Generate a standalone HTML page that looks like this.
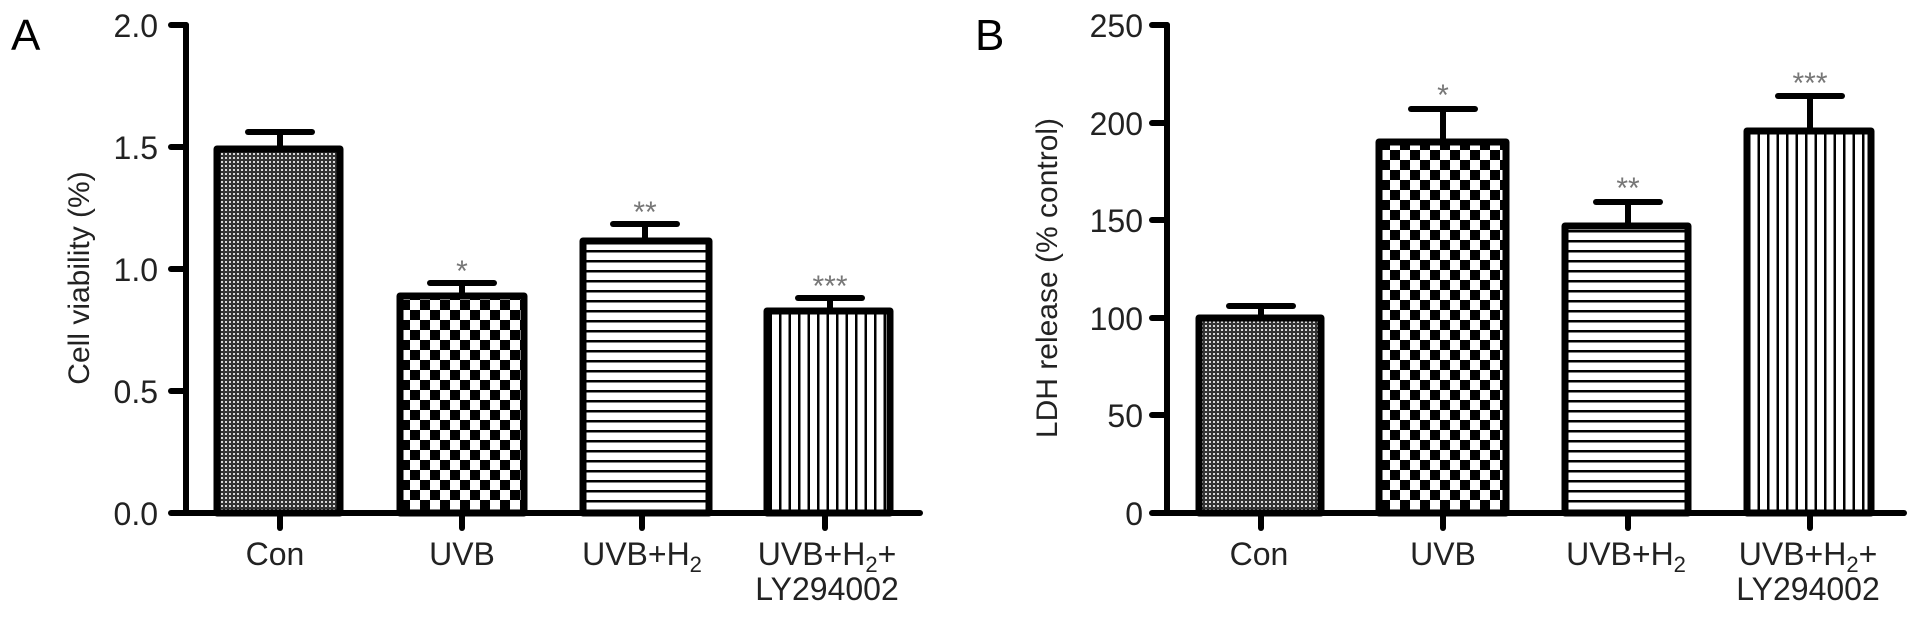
<!DOCTYPE html>
<html><head><meta charset="utf-8"><style>
html,body{margin:0;padding:0;background:#fff;}
svg{display:block;}
text{font-family:"Liberation Sans",Arial,sans-serif;}
</style></head><body>
<svg width="1913" height="620" viewBox="0 0 1913 620" xmlns="http://www.w3.org/2000/svg">
<defs>
<pattern id="dots" width="4" height="4" patternUnits="userSpaceOnUse">
<rect width="4" height="4" fill="#333"/><rect x="1" y="1" width="2" height="2" fill="#d8d8d8"/>
</pattern>
<pattern id="chk" width="20" height="20" patternUnits="userSpaceOnUse">
<rect width="20" height="20" fill="#fff"/><rect width="10" height="10" fill="#000"/><rect x="10" y="10" width="10" height="10" fill="#000"/>
</pattern>
<pattern id="hl" width="10" height="10" patternUnits="userSpaceOnUse">
<rect width="10" height="10" fill="#fff"/><rect y="0" width="10" height="2.5" fill="#000"/>
</pattern>
<pattern id="vl" width="9.5" height="10" patternUnits="userSpaceOnUse">
<rect width="9.5" height="10" fill="#fff"/><rect x="0" width="2.5" height="10" fill="#000"/>
</pattern>
</defs>
<g stroke="#000" stroke-width="6" stroke-linecap="round" fill="none">
<!-- Panel A -->
<line x1="186" y1="25" x2="186" y2="513"/>
<line x1="186" y1="513" x2="920" y2="513"/>
<line x1="171" y1="25" x2="186" y2="25"/><line x1="171" y1="147" x2="186" y2="147"/><line x1="171" y1="269" x2="186" y2="269"/><line x1="171" y1="391" x2="186" y2="391"/><line x1="171" y1="513" x2="186" y2="513"/>
<line x1="280" y1="513" x2="280" y2="528"/><line x1="462" y1="513" x2="462" y2="528"/><line x1="642" y1="513" x2="642" y2="528"/><line x1="825" y1="513" x2="825" y2="528"/>
<line x1="280" y1="132" x2="280" y2="150"/><line x1="248" y1="132" x2="312" y2="132"/>
<line x1="462" y1="283" x2="462" y2="296"/><line x1="430" y1="283" x2="494" y2="283"/>
<line x1="645" y1="224" x2="645" y2="241"/><line x1="613" y1="224" x2="677" y2="224"/>
<line x1="830" y1="298" x2="830" y2="311"/><line x1="798" y1="298" x2="862" y2="298"/>
</g>
<g stroke="#000" stroke-width="7" stroke-linejoin="round">
<rect x="217" y="149" width="123" height="364" fill="url(#dots)"/>
<rect x="400" y="296" width="124" height="217" fill="url(#chk)"/>
<rect x="583" y="241" width="126" height="272" fill="url(#hl)"/>
<rect x="767" y="311" width="123" height="202" fill="url(#vl)"/>
</g>
<g font-size="32" text-anchor="end" fill="#222">
<text x="158" y="37">2.0</text><text x="158" y="159">1.5</text><text x="158" y="281">1.0</text><text x="158" y="403">0.5</text><text x="158" y="525">0.0</text>
</g>
<text x="0" y="0" font-size="30" text-anchor="middle" fill="#222" transform="translate(89,278) rotate(-90)">Cell viability (%)</text>
<text x="11" y="50" font-size="44" fill="#000">A</text>
<g font-size="32" text-anchor="middle" fill="#222">
<text x="275" y="565">Con</text><text x="462" y="565">UVB</text>
<text x="642" y="565">UVB+H<tspan font-size="22" dy="7">2</tspan></text>
<text x="827" y="565">UVB+H<tspan font-size="22" dy="7">2</tspan><tspan dy="-7">+</tspan></text>
<text x="827" y="600">LY294002</text>
</g>
<g font-size="30" text-anchor="middle" fill="#777">
<text x="462" y="281">*</text><text x="645" y="222">**</text><text x="830" y="296">***</text>
</g>
<!-- Panel B -->
<g stroke="#000" stroke-width="6" stroke-linecap="round" fill="none">
<line x1="1167" y1="25" x2="1167" y2="513"/>
<line x1="1167" y1="513" x2="1904" y2="513"/>
<line x1="1152" y1="25" x2="1167" y2="25"/><line x1="1152" y1="123" x2="1167" y2="123"/><line x1="1152" y1="220" x2="1167" y2="220"/><line x1="1152" y1="318" x2="1167" y2="318"/><line x1="1152" y1="415" x2="1167" y2="415"/><line x1="1152" y1="513" x2="1167" y2="513"/>
<line x1="1261" y1="513" x2="1261" y2="528"/><line x1="1443" y1="513" x2="1443" y2="528"/><line x1="1628" y1="513" x2="1628" y2="528"/><line x1="1810" y1="513" x2="1810" y2="528"/>
<line x1="1261" y1="306" x2="1261" y2="318"/><line x1="1229" y1="306" x2="1293" y2="306"/>
<line x1="1443" y1="109" x2="1443" y2="142"/><line x1="1411" y1="109" x2="1475" y2="109"/>
<line x1="1628" y1="202" x2="1628" y2="226"/><line x1="1596" y1="202" x2="1660" y2="202"/>
<line x1="1810" y1="96" x2="1810" y2="131"/><line x1="1778" y1="96" x2="1842" y2="96"/>
</g>
<g stroke="#000" stroke-width="7" stroke-linejoin="round">
<rect x="1199" y="318" width="122" height="195" fill="url(#dots)"/>
<rect x="1379" y="142" width="127" height="371" fill="url(#chk)"/>
<rect x="1565" y="226" width="123" height="287" fill="url(#hl)"/>
<rect x="1747" y="131" width="124" height="382" fill="url(#vl)"/>
</g>
<g font-size="32" text-anchor="end" fill="#222">
<text x="1143" y="37">250</text><text x="1143" y="135">200</text><text x="1143" y="232">150</text><text x="1143" y="330">100</text><text x="1143" y="427">50</text><text x="1143" y="525">0</text>
</g>
<text x="0" y="0" font-size="30" text-anchor="middle" fill="#222" transform="translate(1057,278) rotate(-90)">LDH release (% control)</text>
<text x="975" y="50" font-size="44" fill="#000">B</text>
<g font-size="32" text-anchor="middle" fill="#222">
<text x="1259" y="565">Con</text><text x="1443" y="565">UVB</text>
<text x="1626" y="565">UVB+H<tspan font-size="22" dy="7">2</tspan></text>
<text x="1808" y="565">UVB+H<tspan font-size="22" dy="7">2</tspan><tspan dy="-7">+</tspan></text>
<text x="1808" y="600">LY294002</text>
</g>
<g font-size="30" text-anchor="middle" fill="#777">
<text x="1443" y="105">*</text><text x="1628" y="198">**</text><text x="1810" y="93">***</text>
</g>
</svg>
</body></html>
